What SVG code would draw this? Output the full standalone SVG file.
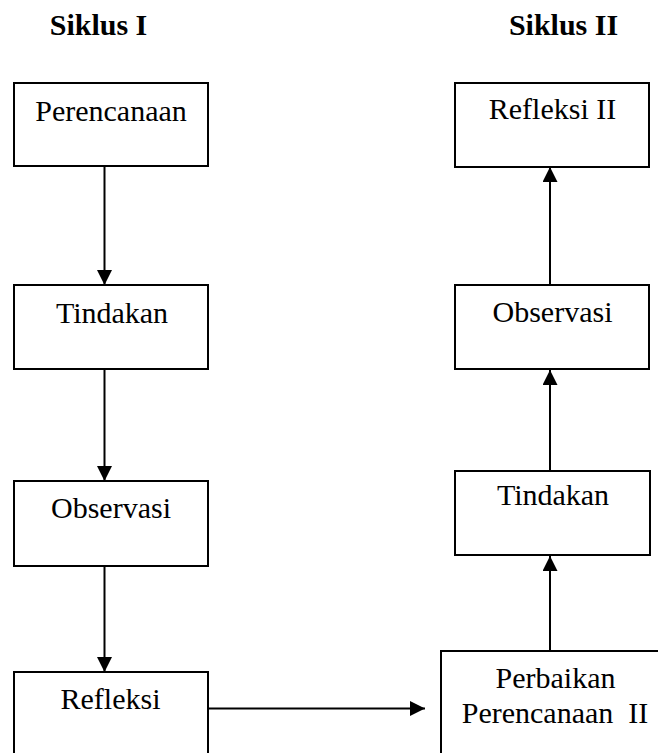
<svg xmlns="http://www.w3.org/2000/svg" width="658" height="753" viewBox="0 0 658 753">
<style>
.box{fill:#fff;stroke:#000;stroke-width:2}
.lbl{font-family:"Liberation Serif","Times New Roman",serif;font-size:30px;fill:#000;text-anchor:middle}
.title{font-family:"Liberation Serif","Times New Roman",serif;font-size:30px;font-weight:bold;fill:#000;text-anchor:middle}
.con{stroke:#000;stroke-width:2;fill:none;marker-end:url(#arr)}
</style>
<defs>
<marker id="arr" markerUnits="userSpaceOnUse" markerWidth="15" markerHeight="15" refX="14" refY="7" orient="auto" viewBox="0 0 14 14">
<path d="M0,0 L14,7 L0,14 z" fill="#000"/>
</marker>
</defs>
<rect width="658" height="753" fill="#fff"/>
<text class="title" x="98.5" y="35">Siklus I</text>
<text class="title" x="563.5" y="35">Siklus II</text>
<g id="connectors">
<line class="con" x1="104.5" y1="167" x2="104.5" y2="285"/>
<line class="con" x1="104.5" y1="370" x2="104.5" y2="481"/>
<line class="con" x1="104.5" y1="567" x2="104.5" y2="672"/>
<line class="con" x1="208" y1="708.5" x2="425" y2="708.5"/>
<line class="con" x1="550" y1="651" x2="550" y2="556"/>
<line class="con" x1="550" y1="471" x2="550" y2="370"/>
<line class="con" x1="550" y1="285" x2="550" y2="167"/>
</g>
<g id="n-perencanaan"><rect class="box" x="14" y="83" width="194" height="83"/><text class="lbl" x="111" y="121">Perencanaan</text></g>
<g id="n-tindakan1"><rect class="box" x="14" y="285" width="194" height="84"/><text class="lbl" x="112" y="323">Tindakan</text></g>
<g id="n-observasi1"><rect class="box" x="14" y="481" width="194" height="85"/><text class="lbl" x="111" y="518">Observasi</text></g>
<g id="n-refleksi1"><rect class="box" x="14" y="672" width="194" height="95"/><text class="lbl" x="110.5" y="709">Refleksi</text></g>
<g id="n-perbaikan"><rect class="box" x="441" y="651" width="230" height="115"/><text class="lbl" x="555.5" y="688">Perbaikan</text><text class="lbl" x="555" y="723" xml:space="preserve">Perencanaan  II</text></g>
<g id="n-tindakan2"><rect class="box" x="455" y="471" width="195" height="84"/><text class="lbl" x="553" y="505">Tindakan</text></g>
<g id="n-observasi2"><rect class="box" x="455" y="285" width="194" height="84"/><text class="lbl" x="552.5" y="322">Observasi</text></g>
<g id="n-refleksi2"><rect class="box" x="455" y="83" width="194" height="84"/><text class="lbl" x="552.5" y="119">Refleksi II</text></g>
</svg>
